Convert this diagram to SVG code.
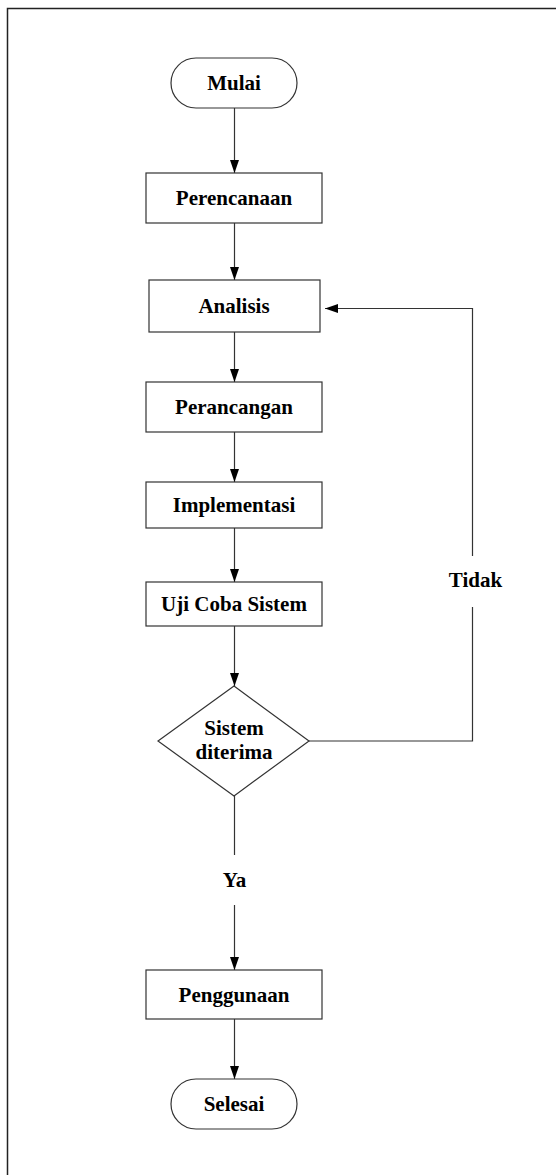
<svg xmlns="http://www.w3.org/2000/svg" width="556" height="1175" viewBox="0 0 556 1175">
<defs>
<marker id="ah" markerUnits="userSpaceOnUse" markerWidth="13" markerHeight="10" refX="13" refY="5" orient="auto">
<path d="M0,0.5 L13,5 L0,9.5 z" fill="#000"/>
</marker>
<style>
.n{fill:#fff;stroke:#333;stroke-width:1.2}
.t{font-family:"Liberation Serif","Times New Roman",serif;font-weight:bold;font-size:21px;fill:#000;text-anchor:middle}
.c{fill:none;stroke:#333;stroke-width:1.2}
</style>
</defs>
<rect x="0" y="0" width="556" height="1175" fill="#fff"/>
<path d="M7.5,1175 V8.5 H556" fill="none" stroke="#222" stroke-width="1.5"/>
<g id="connectors">
<line class="c" x1="234.5" y1="108" x2="234.5" y2="173" marker-end="url(#ah)"/>
<line class="c" x1="234.5" y1="223" x2="234.5" y2="280" marker-end="url(#ah)"/>
<line class="c" x1="234.5" y1="332" x2="234.5" y2="382" marker-end="url(#ah)"/>
<line class="c" x1="234.5" y1="432" x2="234.5" y2="482" marker-end="url(#ah)"/>
<line class="c" x1="234.5" y1="528" x2="234.5" y2="582" marker-end="url(#ah)"/>
<line class="c" x1="234.5" y1="626" x2="234.5" y2="686" marker-end="url(#ah)"/>
<line class="c" x1="234.5" y1="796" x2="234.5" y2="855"/>
<line class="c" x1="234.5" y1="905" x2="234.5" y2="970" marker-end="url(#ah)"/>
<line class="c" x1="234.5" y1="1019" x2="234.5" y2="1079" marker-end="url(#ah)"/>
<polyline class="c" points="309,741 472.5,741 472.5,607"/>
<polyline class="c" points="472.5,556 472.5,308.5 325,308.5" marker-end="url(#ah)"/>
<text class="t" x="234.5" y="887">Ya</text>
<text class="t" x="475.5" y="587">Tidak</text>
</g>
<g id="mulai"><rect class="n" x="171" y="58" width="126" height="50" rx="25"/><text class="t" x="234" y="90">Mulai</text></g>
<g id="perencanaan"><rect class="n" x="146" y="173" width="176" height="50"/><text class="t" x="234" y="205">Perencanaan</text></g>
<g id="analisis"><rect class="n" x="149" y="280" width="171" height="52"/><text class="t" x="234" y="313">Analisis</text></g>
<g id="perancangan"><rect class="n" x="146" y="382" width="176" height="50"/><text class="t" x="234" y="414">Perancangan</text></g>
<g id="implementasi"><rect class="n" x="146" y="482" width="176" height="46"/><text class="t" x="234" y="512">Implementasi</text></g>
<g id="ujicoba"><rect class="n" x="146" y="582" width="176" height="44"/><text class="t" x="234" y="611">Uji Coba Sistem</text></g>
<g id="diterima"><polygon class="n" points="234,686 309,741 234,796 158,741"/><text class="t" x="234" y="735">Sistem</text><text class="t" x="234" y="759">diterima</text></g>
<g id="penggunaan"><rect class="n" x="146" y="970" width="176" height="49"/><text class="t" x="234" y="1002">Penggunaan</text></g>
<g id="selesai"><rect class="n" x="171" y="1079" width="126" height="50" rx="25"/><text class="t" x="234" y="1111">Selesai</text></g>
</svg>
